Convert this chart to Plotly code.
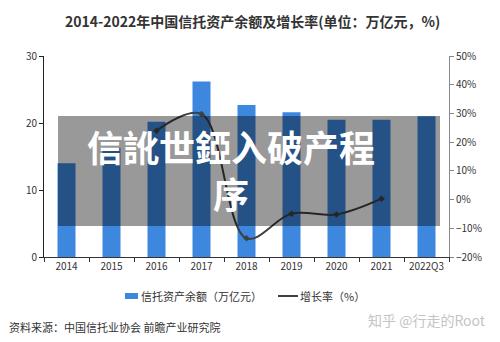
import plotly.graph_objects as go

years = ["2014", "2015", "2016", "2017", "2018", "2019", "2020", "2021", "2022Q3"]
balance = [14.0, 16.3, 20.2, 26.2, 22.7, 21.6, 20.5, 20.5, 21.0]
growth_years = ["2016", "2017", "2018", "2019", "2020", "2021"]
growth = [24.0, 29.8, -13.5, -4.9, -5.2, 0.3]

FONT = "Noto Sans CJK SC"
BLUE = "#3d87df"

fig = go.Figure()
fig.add_trace(go.Bar(x=years, y=balance, marker=dict(color=BLUE, line=dict(width=0)),
                     width=0.4, yaxis="y", showlegend=False))
fig.add_trace(go.Scatter(x=growth_years, y=growth, mode="lines+markers",
                         line=dict(color="#404040", width=2, shape="spline", smoothing=1.0),
                         marker=dict(symbol="diamond", size=5, color="#404040"),
                         yaxis="y2", showlegend=False))

L, R, T, B = 44, 51, 56, 85
W, H = 500, 342
pw, ph = W - L - R, H - T - B

def px(x):
    return (x - L) / pw

def py(y):
    return (H - B - y) / ph

shapes = [
    # overlay band
    dict(type="rect", xref="paper", yref="paper", x0=px(58), x1=px(440), y0=py(226), y1=py(116),
         fillcolor="rgba(0,0,0,0.4)", line=dict(width=0), layer="above"),
    # legend symbols
    dict(type="rect", xref="paper", yref="paper", x0=px(125), x1=px(138), y0=py(299), y1=py(293),
         fillcolor=BLUE, line=dict(width=0)),
    dict(type="line", xref="paper", yref="paper", x0=px(278), x1=px(298), y0=py(296), y1=py(296),
         line=dict(color="#404040", width=2)),
]

annotations = [
    dict(text="<b>2014-2022年中国信托资产余额及增长率(单位：万亿元，%)</b>", xref="paper", yref="paper",
         x=px(252), y=py(21), showarrow=False, xanchor="center", yanchor="middle",
         font=dict(family=FONT, size=14, color="#333333")),
    dict(text="信托资产余额（万亿元）", xref="paper", yref="paper", x=px(139), y=py(296),
         showarrow=False, xanchor="left", yanchor="middle", font=dict(family=FONT, size=11, color="#333333")),
    dict(text="增长率（%）", xref="paper", yref="paper", x=px(298), y=py(296),
         showarrow=False, xanchor="left", yanchor="middle", font=dict(family=FONT, size=11, color="#333333")),
    dict(text="资料来源：中国信托业协会 前瞻产业研究院", xref="paper", yref="paper", x=px(7), y=py(327),
         showarrow=False, xanchor="left", yanchor="middle", font=dict(family=FONT, size=11, color="#333333")),
    dict(text="知乎 @行走的Root", xref="paper", yref="paper", x=px(488), y=py(320),
         showarrow=False, xanchor="right", yanchor="middle", font=dict(family=FONT, size=14, color="#c4c4c4")),
    dict(text="<b>信訛世錏入破产程</b><br><b>序</b>", xref="paper", yref="paper", x=px(231), y=py(169),
         showarrow=False, xanchor="center", yanchor="middle", align="center",
         font=dict(family=FONT, size=36, color="white")),
]

fig.update_layout(
    width=W, height=H, margin=dict(l=L, r=R, t=T, b=B),
    paper_bgcolor="white", plot_bgcolor="white",
    font=dict(family=FONT, size=10, color="#333333"),
    xaxis=dict(type="category", showline=True, linecolor="#333333", linewidth=1,
               ticks="outside", tickson="boundaries", ticklen=4, tickcolor="#333333",
               showgrid=False, tickfont=dict(size=10, color="#333333")),
    yaxis=dict(range=[0, 30], dtick=10, showline=True, linecolor="#222222", linewidth=1,
               ticks="outside", ticklen=4, tickcolor="#222222", showgrid=False, zeroline=False,
               tickfont=dict(size=10, color="#333333")),
    yaxis2=dict(range=[-20, 50], dtick=10, overlaying="y", side="right", ticksuffix="%",
                showline=True, linecolor="#888888", linewidth=1, ticks="outside", ticklen=4,
                tickcolor="#888888", showgrid=False, zeroline=False,
                tickfont=dict(size=10, color="#333333")),
    shapes=shapes, annotations=annotations,
)

fig.write_html("out.html")
